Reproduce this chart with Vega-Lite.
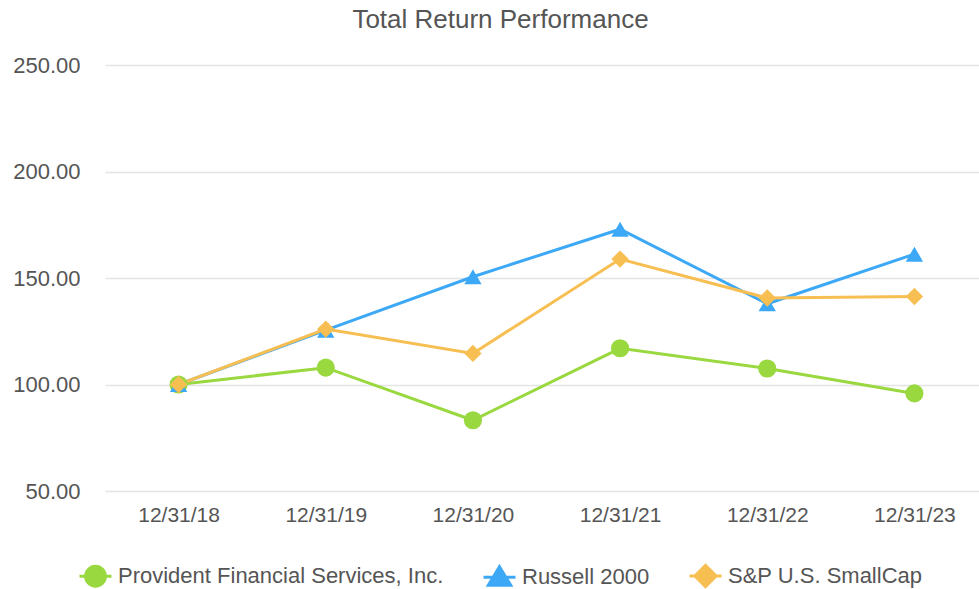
{
  "$schema": "https://vega.github.io/schema/vega-lite/v6.json",
  "width": 883,
  "height": 426,
  "autosize": {"type": "none"},
  "padding": {"left": 105, "top": 65, "right": 0, "bottom": 98},
  "background": "white",
  "config": {
    "font": "Liberation Sans",
    "view": {"stroke": null}
  },
  "title": {
    "text": "Total Return Performance",
    "fontSize": 26,
    "fontWeight": "normal",
    "color": "#555555",
    "anchor": "middle",
    "dx": -46,
    "offset": 21
  },
  "data": {
    "values": [
      {"date": "12/31/18", "series": "Russell 2000", "value": 100.0},
      {"date": "12/31/18", "series": "Provident Financial Services, Inc.", "value": 100.0},
      {"date": "12/31/18", "series": "S&P U.S. SmallCap", "value": 100.0},
      {"date": "12/31/19", "series": "Russell 2000", "value": 125.5},
      {"date": "12/31/19", "series": "Provident Financial Services, Inc.", "value": 107.9},
      {"date": "12/31/19", "series": "S&P U.S. SmallCap", "value": 126.0},
      {"date": "12/31/20", "series": "Russell 2000", "value": 150.6},
      {"date": "12/31/20", "series": "Provident Financial Services, Inc.", "value": 83.2},
      {"date": "12/31/20", "series": "S&P U.S. SmallCap", "value": 114.6},
      {"date": "12/31/21", "series": "Russell 2000", "value": 172.9},
      {"date": "12/31/21", "series": "Provident Financial Services, Inc.", "value": 117.0},
      {"date": "12/31/21", "series": "S&P U.S. SmallCap", "value": 158.9},
      {"date": "12/31/22", "series": "Russell 2000", "value": 137.9},
      {"date": "12/31/22", "series": "Provident Financial Services, Inc.", "value": 107.5},
      {"date": "12/31/22", "series": "S&P U.S. SmallCap", "value": 140.6},
      {"date": "12/31/23", "series": "Russell 2000", "value": 161.2},
      {"date": "12/31/23", "series": "Provident Financial Services, Inc.", "value": 95.8},
      {"date": "12/31/23", "series": "S&P U.S. SmallCap", "value": 141.3}
    ]
  },
  "encoding": {
    "x": {
      "field": "date",
      "type": "ordinal",
      "scale": {"type": "point", "padding": 0.5},
      "axis": {
        "title": null,
        "labelAngle": 0,
        "labelFontSize": 21,
        "labelColor": "#555555",
        "labelPadding": 13,
        "ticks": false,
        "domain": false,
        "grid": false
      }
    },
    "y": {
      "field": "value",
      "type": "quantitative",
      "scale": {"domain": [50, 250], "nice": false, "zero": false},
      "axis": {
        "title": null,
        "values": [50, 100, 150, 200, 250],
        "format": ".2f",
        "labelFontSize": 22,
        "labelColor": "#555555",
        "labelPadding": 25,
        "ticks": false,
        "domain": false,
        "grid": true,
        "gridColor": "#e4e4e4",
        "gridWidth": 1.5
      }
    },
    "color": {
      "field": "series",
      "type": "nominal",
      "scale": {
        "domain": ["Provident Financial Services, Inc.", "Russell 2000", "S&P U.S. SmallCap"],
        "range": ["#9AD840", "#3DA9F6", "#F7BE52"]
      },
      "legend": {
        "title": null,
        "orient": "none",
        "direction": "horizontal",
        "legendX": -27,
        "legendY": 493,
        "labelFontSize": 22,
        "labelColor": "#555555",
        "symbolSize": 1024,
        "symbolStrokeWidth": 3,
        "columnPadding": 33,
        "labelOffset": 5,
        "labelLimit": 400,
        "encode": {
          "symbols": {
            "enter": {
              "shape": {"signal": "datum.value === 'Russell 2000' ? 'M-1,0L1,0M0,-0.66L0.7,0.5L-0.7,0.5Z' : (datum.value === 'S&P U.S. SmallCap' ? 'M-1,0L1,0M0,-0.66L0.66,0L0,0.66L-0.66,0Z' : 'M-1,0L1,0M0.62,0A0.62,0.62,0,1,1,-0.62,0A0.62,0.62,0,1,1,0.62,0Z')"}
            },
            "update": {
              "shape": {"signal": "datum.value === 'Russell 2000' ? 'M-1,0L1,0M0,-0.66L0.7,0.5L-0.7,0.5Z' : (datum.value === 'S&P U.S. SmallCap' ? 'M-1,0L1,0M0,-0.66L0.66,0L0,0.66L-0.66,0Z' : 'M-1,0L1,0M0.62,0A0.62,0.62,0,1,1,-0.62,0A0.62,0.62,0,1,1,0.62,0Z')"},
              "fill": {"signal": "scale('color', datum.value)"},
              "stroke": {"signal": "scale('color', datum.value)"},
              "strokeWidth": {"value": 3},
              "opacity": {"value": 1}
            }
          }
        }
      }
    }
  },
  "layer": [
    {
      "mark": {"type": "line", "strokeWidth": 3}
    },
    {
      "transform": [{"filter": "datum.series === 'Provident Financial Services, Inc.'"}],
      "mark": {"type": "point", "filled": true, "opacity": 1, "size": 330, "shape": "circle"}
    },
    {
      "transform": [{"filter": "datum.series === 'Russell 2000'"}],
      "mark": {"type": "point", "filled": true, "opacity": 1, "size": 300, "shape": "triangle-up"}
    },
    {
      "transform": [{"filter": "datum.series === 'S&P U.S. SmallCap'"}],
      "mark": {"type": "point", "filled": true, "opacity": 1, "size": 300, "shape": "diamond"}
    }
  ]
}
